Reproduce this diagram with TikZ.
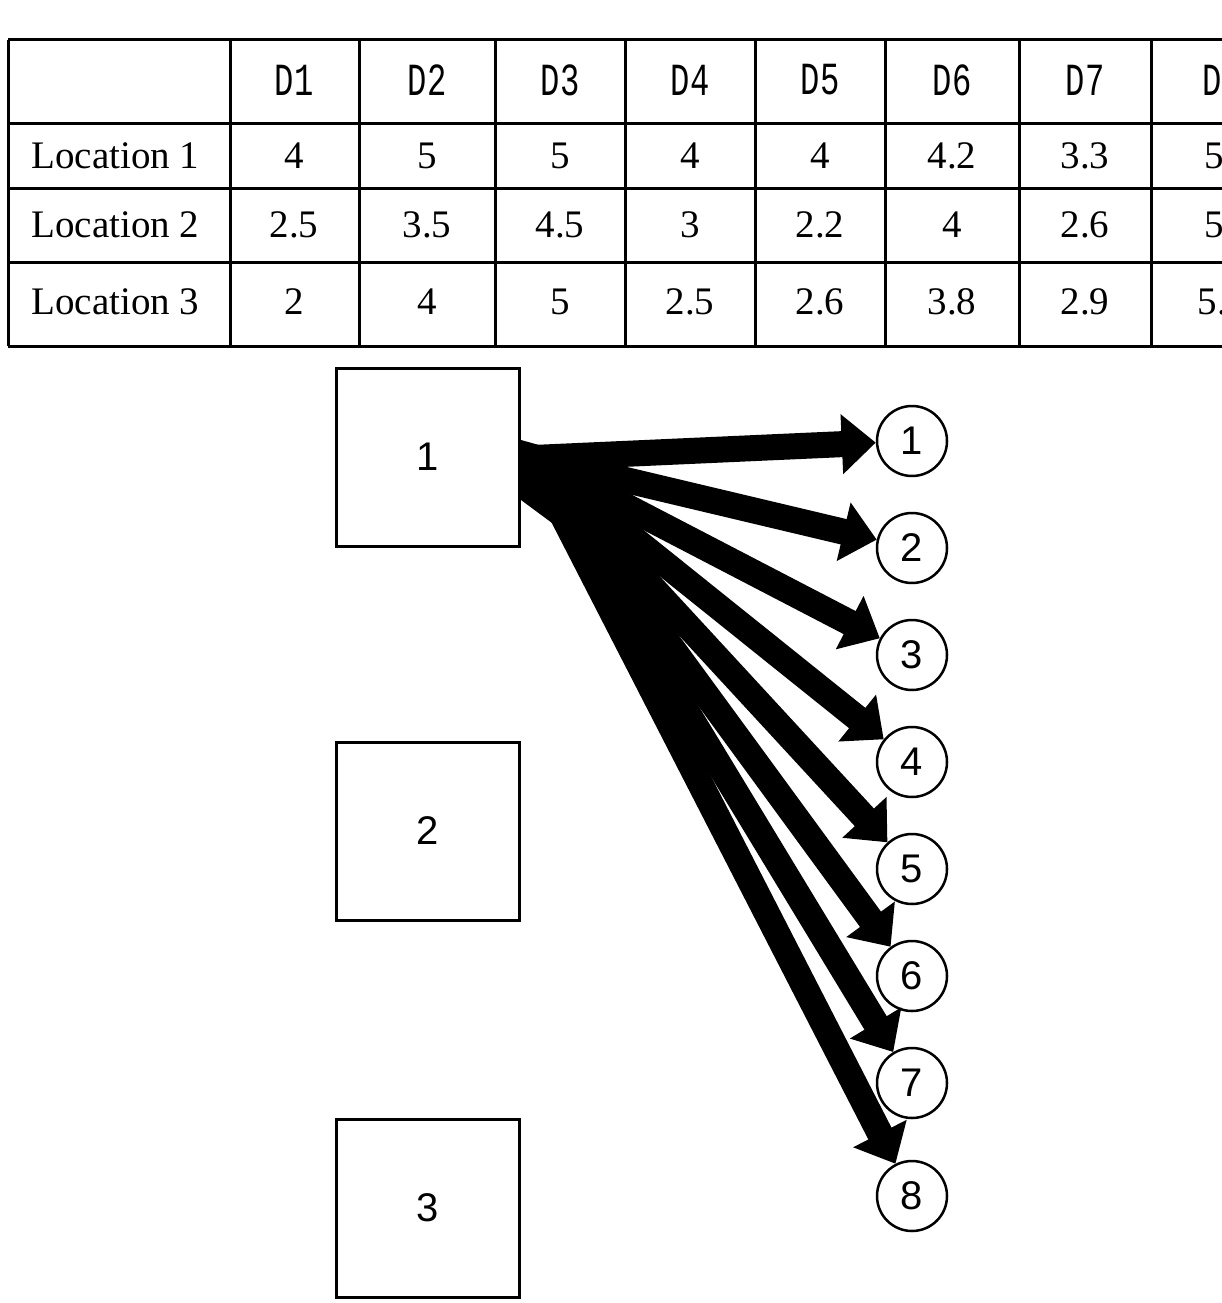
\documentclass[tikz,border=0pt]{standalone}
\usepackage{fontspec}
\setmainfont{Liberation Serif}
\newfontfamily\hdr[FakeStretch=0.7]{Liberation Mono}
\newfontfamily\arial{Liberation Sans}
\usetikzlibrary{arrows.meta}
\begin{document}
\begin{tikzpicture}[x=1pt,y=-1pt,
  cell/.style={font=\fontsize{39}{42}\selectfont},
  hcell/.style={font=\hdr\fontsize{46}{48}\selectfont},
  box/.style={draw,line width=3pt,minimum width=183pt,minimum height=178pt,font=\arial\fontsize{40}{42}\selectfont},
  dest/.style={draw,circle,line width=2.5pt,minimum size=70pt,inner sep=0pt,font=\arial\fontsize{40}{42}\selectfont},
  flow/.style={line width=26pt,-{Triangle[length=34pt,width=58pt]}}]
\useasboundingbox (0,0) rectangle (1222,1303);
\begin{scope}
\clip (0,0) rectangle (1222,1303);
\foreach \y in {40,124,188,262,346} \draw[line width=3pt] (8,\y) -- (1300,\y);
\foreach \x in {8,230,359,495,625,755,885,1019,1151} \draw[line width=3pt] (\x,40) -- (\x,346);
\foreach \t/\x in {D1/294,D2/427,D3/560,D4/690,D5/820,D6/952,D7/1085,D8/1222}
  \node[hcell] (h\t) at (\x,80) {\t};
\node[cell,anchor=west] (l1) at (28,156) {Location 1};
\node[cell,anchor=west] (l2) at (28,225) {Location 2};
\node[cell,anchor=west] (l3) at (28,302) {Location 3};
\foreach \v [count=\i] in {4,5,5,4,4,4.2,3.3}{
  \pgfmathsetmacro{\xx}{{294,427,560,690,820,952,1085}[\i-1]}
  \node[cell] (a\i) at (\xx,156) {\v};}
\foreach \v [count=\i] in {2.5,3.5,4.5,3,2.2,4,2.6}{
  \pgfmathsetmacro{\xx}{{294,427,560,690,820,952,1085}[\i-1]}
  \node[cell] (b\i) at (\xx,225) {\v};}
\foreach \v [count=\i] in {2,4,5,2.5,2.6,3.8,2.9}{
  \pgfmathsetmacro{\xx}{{294,427,560,690,820,952,1085}[\i-1]}
  \node[cell] (c\i) at (\xx,302) {\v};}
\node[cell] (a8) at (1214,156) {5};
\node[cell] (b8) at (1214,225) {5};
\node[cell] (c8) at (1222,302) {5.5};
\end{scope}
\node[box] (f1) at (427.5,457) {1};
\node[box] (f2) at (427.5,831) {2};
\node[box] (f3) at (427.5,1208) {3};
\foreach \i/\y in {1/441,2/548,3/655,4/762,5/869,6/976,7/1083,8/1196}
  \node[dest] (d\i) at (912,\y) {\i};
\coordinate (s) at (533,458);
\fill (521,440) -- (600,462) -- (575,540) -- (521,500) -- cycle;
\foreach \i in {1,...,8} \draw[flow] (s) -- (d\i);
\end{tikzpicture}
\end{document}
